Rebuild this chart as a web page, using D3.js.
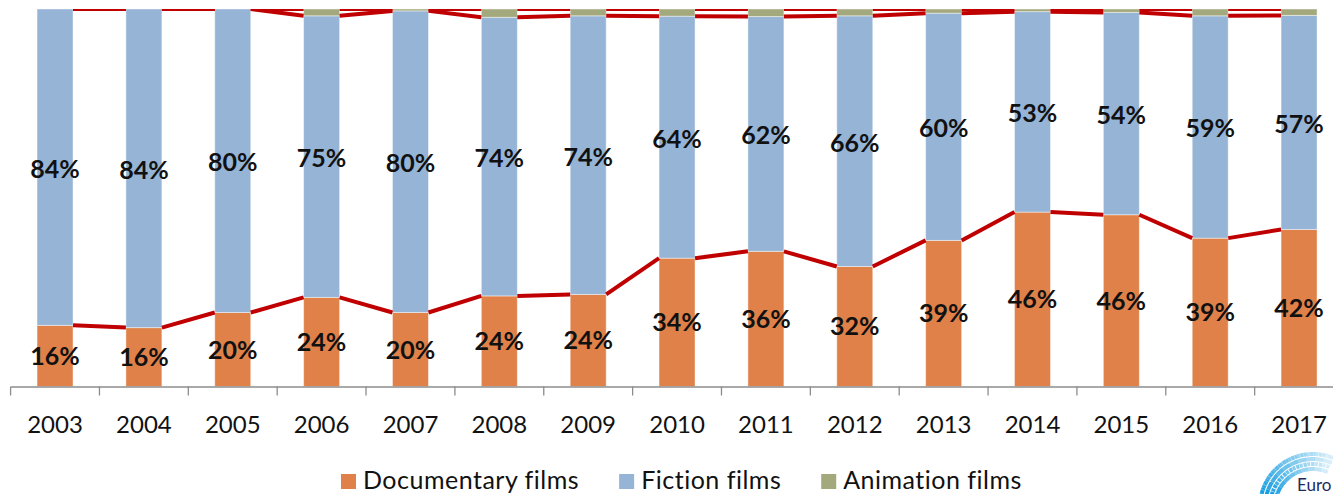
<!DOCTYPE html>
<html>
<head>
<meta charset="utf-8">
<script src="https://cdn.jsdelivr.net/npm/d3@7"></script>
<style>
  body { margin: 0; background: #fff; }
  svg { display: block; font-family: Lato, "Open Sans", sans-serif; }
</style>
</head>
<body>
<div id="chart"></div>
<script>
// data (shares of films, %)
var years = ["2003","2004","2005","2006","2007","2008","2009","2010","2011","2012","2013","2014","2015","2016","2017"];
var documentary = [16.2, 15.6, 19.6, 23.6, 19.6, 24.0, 24.4, 34.0, 35.8, 31.8, 38.7, 46.2, 45.5, 39.3, 41.6];
var animation   = [0, 0, 0, 1.8, 0.5, 2.2, 1.8, 1.9, 2.0, 1.8, 1.1, 0.7, 0.9, 1.8, 1.7];
var fiction = documentary.map(function(d, i) { return 100 - d - animation[i]; });
var docLabels = ["16%","16%","20%","24%","20%","24%","24%","34%","36%","32%","39%","46%","46%","39%","42%"];
var ficLabels = ["84%","84%","80%","75%","80%","74%","74%","64%","62%","66%","60%","53%","54%","59%","57%"];

var seriesNames = ["Documentary films", "Fiction films", "Animation films"];
var colors = ["#df8149", "#95b4d6", "#a4a97d"];

var width = 1333, height = 494;
var plotTop = 9, plotBottom = 386.5;

var svg = d3.select("#chart").append("svg")
    .attr("width", width)
    .attr("height", height);

var xScale = d3.scaleBand()
    .domain(years)
    .range([10.6, 1343.5])
    .paddingInner(0.595)
    .paddingOuter(0.2975);

var yScale = d3.scaleLinear()
    .domain([0, 100])
    .range([plotBottom, plotTop]);

var rows = years.map(function(y, i) {
  return { year: y, doc: documentary[i], fic: fiction[i], anim: animation[i] };
});
var stack = d3.stack().keys(["doc", "fic", "anim"]);
var layers = stack(rows);

svg.append("clipPath").attr("id", "plot")
  .append("rect")
    .attr("x", 0).attr("y", plotTop)
    .attr("width", width).attr("height", plotBottom - plotTop);

// bars
var g = svg.append("g");
layers.forEach(function(layer, k) {
  g.append("g")
    .selectAll("rect")
    .data(layer)
    .join("rect")
      .attr("x", function(d) { return xScale(d.data.year); })
      .attr("y", function(d) { return yScale(d[1]); })
      .attr("width", xScale.bandwidth())
      .attr("height", function(d) { return Math.max(0, yScale(d[0]) - yScale(d[1])); })
      .attr("fill", colors[k])
      .attr("stroke", "rgba(255,255,255,0.45)")
      .attr("stroke-width", 1);
});

// series lines between bars
var lines = svg.append("g").attr("clip-path", "url(#plot)");
layers.forEach(function(layer) {
  var segs = d3.pairs(layer);
  lines.selectAll(null)
    .data(segs)
    .join("line")
      .attr("x1", function(p) { return xScale(p[0].data.year) + xScale.bandwidth(); })
      .attr("y1", function(p) { return yScale(p[0][1]); })
      .attr("x2", function(p) { return xScale(p[1].data.year); })
      .attr("y2", function(p) { return yScale(p[1][1]); })
      .attr("stroke", "#c00000")
      .attr("stroke-width", 4);
});

// data labels
var half = xScale.bandwidth() / 2;
svg.append("g")
  .selectAll("text")
  .data(layers[0])
  .join("text")
    .attr("x", function(d) { return xScale(d.data.year) + half; })
    .attr("y", function(d) { return (yScale(d[0]) + yScale(d[1])) / 2; })
    .attr("dy", "0.36em")
    .attr("text-anchor", "middle")
    .style("font-weight", "bold")
    .style("font-size", "25px")
    .attr("fill", "#111")
    .text(function(d, i) { return docLabels[i]; });

svg.append("g")
  .selectAll("text")
  .data(layers[1])
  .join("text")
    .attr("x", function(d) { return xScale(d.data.year) + half; })
    .attr("y", function(d) { return (yScale(d[0]) + yScale(d[1])) / 2 + 1.5; })
    .attr("dy", "0.36em")
    .attr("text-anchor", "middle")
    .style("font-weight", "bold")
    .style("font-size", "25px")
    .attr("fill", "#111")
    .text(function(d, i) { return ficLabels[i]; });

// x axis
var axis = svg.append("g")
    .attr("transform", "translate(0," + plotBottom + ")")
    .call(d3.axisBottom(xScale).tickSize(0).tickPadding(29));
axis.select(".domain").attr("stroke", "#8c8c8c").attr("stroke-width", 1.3);
axis.selectAll("text")
    .style("font-size", "24px")
    .style("font-family", "Lato, sans-serif")
    .attr("fill", "#111");

var step = xScale.step();
var bounds = d3.range(years.length + 1).map(function(i) { return xScale.range()[0] + i * step; });
axis.selectAll(".bound")
  .data(bounds)
  .join("line")
    .attr("class", "bound")
    .attr("x1", function(d) { return d; })
    .attr("x2", function(d) { return d; })
    .attr("y1", 0)
    .attr("y2", 9)
    .attr("stroke", "#8c8c8c")
    .attr("stroke-width", 1.3);

// legend
var legend = svg.append("g");
var lx = 341;
seriesNames.forEach(function(name, k) {
  legend.append("rect")
    .attr("x", lx).attr("y", 474)
    .attr("width", 15).attr("height", 15)
    .attr("fill", colors[k]);
  var t = legend.append("text")
    .attr("x", lx + 22).attr("y", 489)
    .style("font-size", "25px")
    .style("letter-spacing", "0.5px")
    .attr("fill", "#111")
    .text(name);
  lx += 22 + t.node().getComputedTextLength() + 40;
});

// logo in the corner
var logo = svg.append("g").attr("transform", "translate(1313,507)");
[38, 43, 48, 53].forEach(function(r) {
  var pieces = 10, a0 = -1.38, a1 = 0.4;
  for (var j = 0; j < pieces; j++) {
    var arc = d3.arc()
      .innerRadius(r).outerRadius(r)
      .startAngle(a0 + (a1 - a0) * j / pieces)
      .endAngle(a0 + (a1 - a0) * (j + 1) / pieces);
    logo.append("path")
      .attr("d", arc())
      .attr("fill", "none")
      .attr("stroke", "#1a9ee0")
      .attr("stroke-width", 4)
      .attr("stroke-dasharray", "3 1.2")
      .attr("opacity", 1 - j / pieces * 0.92);
  }
});
svg.append("text")
  .attr("x", 1297).attr("y", 491)
  .style("font-size", "17px")
  .attr("fill", "#1f2a5c")
  .text("Euro");
</script>
</body>
</html>
